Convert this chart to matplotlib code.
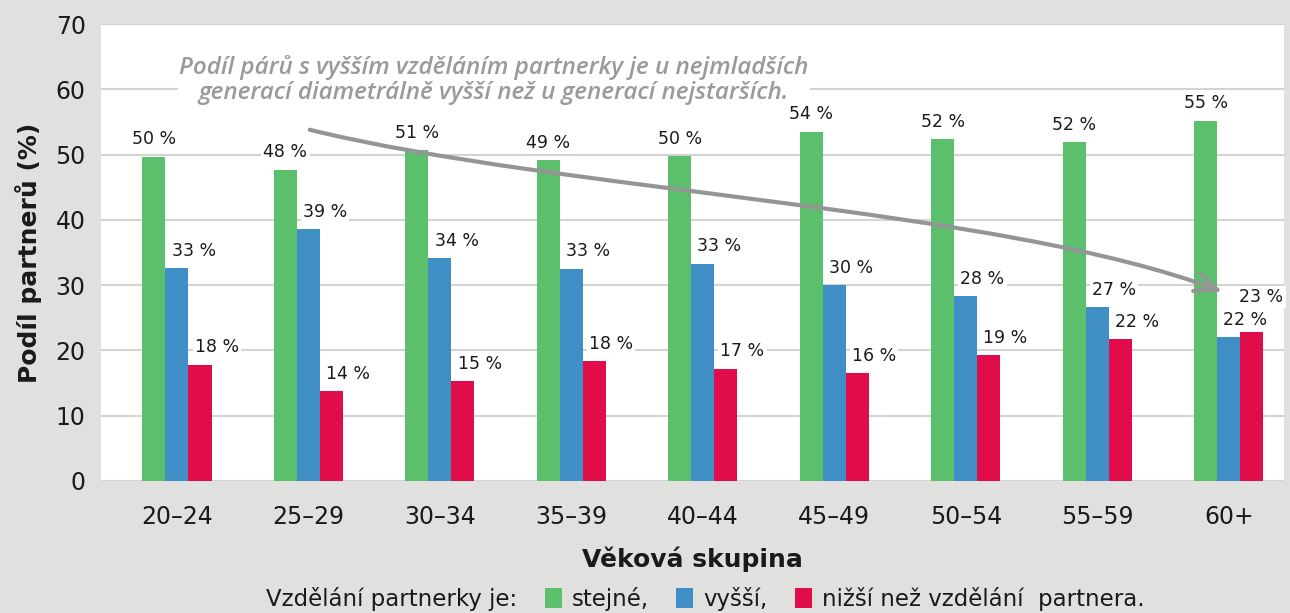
import matplotlib
matplotlib.use("Agg")
import matplotlib.pyplot as plt
import numpy as np
from matplotlib.patches import Patch, FancyArrowPatch
from matplotlib.path import Path

categories = ["20–24", "25–29", "30–34", "35–39", "40–44", "45–49", "50–54", "55–59", "60+"]
stejne = [49.7, 47.7, 50.7, 49.1, 49.8, 53.5, 52.4, 51.9, 55.2]
vyssi = [32.6, 38.6, 34.1, 32.5, 33.3, 30.0, 28.3, 26.6, 22.0]
nizsi = [17.8, 13.8, 15.3, 18.4, 17.2, 16.5, 19.3, 21.7, 22.8]
labels_stejne = ["50 %", "48 %", "51 %", "49 %", "50 %", "54 %", "52 %", "52 %", "55 %"]
labels_vyssi = ["33 %", "39 %", "34 %", "33 %", "33 %", "30 %", "28 %", "27 %", "22 %"]
labels_nizsi = ["18 %", "14 %", "15 %", "18 %", "17 %", "16 %", "19 %", "22 %", "23 %"]

c_green = "#5bbf6b"
c_blue = "#3f8ec6"
c_red = "#e10d4a"
bg = "#e0e0df"
main_font = "DejaVu Sans"
txt_col = "#1a1a1a"

fig = plt.figure(figsize=(12.9, 6.13), dpi=100, facecolor=bg)
ax = fig.add_axes([101/1290, 1-481/613, (1284-101)/1290, (481-24)/613])
ax.set_facecolor("white")

x = np.arange(len(categories))
w = 0.175
ax.bar(x - w, stejne, w, color=c_green, zorder=2)
ax.bar(x, vyssi, w, color=c_blue, zorder=2)
ax.bar(x + w, nizsi, w, color=c_red, zorder=2)

ax.set_xlim(-0.578, 8.42)
ax.set_ylim(0, 70)
ax.set_yticks(range(0, 71, 10))
ax.yaxis.grid(True, color="#d3d3d3", linewidth=1.5, zorder=0)
ax.set_axisbelow(True)
for s in ax.spines.values():
    s.set_visible(False)
ax.tick_params(axis="both", length=0, labelsize=17, colors=txt_col)
ax.tick_params(axis="y", pad=11)
ax.tick_params(axis="x", pad=17)
ax.set_xticks(x)
ax.set_xticklabels(categories, fontfamily=main_font)
for t in ax.get_yticklabels():
    t.set_fontfamily(main_font)

ax.set_ylabel("Podíl partnerů (%)", fontsize=18, fontweight="bold", fontfamily=main_font,
              labelpad=10, color=txt_col)
ax.set_xlabel("Věková skupina", fontsize=18, fontweight="bold", fontfamily=main_font,
              labelpad=13, color=txt_col)

lab_kw = dict(fontsize=12.5, fontfamily=main_font, color=txt_col, ha="center", va="bottom",
              zorder=6, bbox=dict(facecolor="white", edgecolor="none", pad=1.5))
for i in range(len(categories)):
    ax.annotate(labels_stejne[i], (x[i] - w, stejne[i]), xytext=(0, 6),
                textcoords="offset points", **lab_kw)
    ax.annotate(labels_vyssi[i], (x[i], vyssi[i]), xytext=(12, 6),
                textcoords="offset points", **lab_kw)
    if i == len(categories) - 1:
        ax.annotate(labels_nizsi[i], (x[i] + w, nizsi[i]), xytext=(7, 19),
                    textcoords="offset points", **lab_kw)
    else:
        ax.annotate(labels_nizsi[i], (x[i] + w, nizsi[i]), xytext=(12, 6),
                    textcoords="offset points", **lab_kw)

# annotation text
ax.text(2.41, 61.4,
        "Podíl párů s vyšším vzděláním partnerky je u nejmladších\n"
        "generací diametrálně vyšší než u generací nejstarších.",
        ha="center", va="center", fontsize=17.5, color="#9a9a9a", fontstyle="italic",
        fontweight="semibold", fontfamily="Open Sans", linespacing=1.05, zorder=3,
        bbox=dict(facecolor="white", edgecolor="none", pad=1))

# curved arrow (cubic Bezier in data coords)
P0 = (1.01, 53.8)
P1 = (2.92, 44.4)
P2 = (6.28, 41.8)
P3 = (7.95, 29.0)
path = Path([P0, P1, P2, P3], [Path.MOVETO, Path.CURVE4, Path.CURVE4, Path.CURVE4])
arrow = FancyArrowPatch(path=path, arrowstyle="->,head_length=16,head_width=7",
                        color="#959595", linewidth=3, zorder=4, mutation_scale=1)
ax.add_patch(arrow)

# legend
handles = [Patch(facecolor="none", edgecolor="none"),
           Patch(facecolor=c_green), Patch(facecolor=c_blue), Patch(facecolor=c_red)]
leg_labels = ["Vzdělání partnerky je:", "stejné,", "vyšší,", "nižší než vzdělání  partnera."]
leg = fig.legend(handles, leg_labels, loc="center", bbox_to_anchor=(692/1290, 1-599/613),
                 ncol=4, frameon=False, handlelength=0.72, handleheight=1.0,
                 handletextpad=0.45, columnspacing=1.2,
                 prop=dict(family=main_font, size=16.5))
for t in leg.get_texts():
    t.set_color(txt_col)

fig.savefig("out.png", dpi=100, facecolor=bg)
